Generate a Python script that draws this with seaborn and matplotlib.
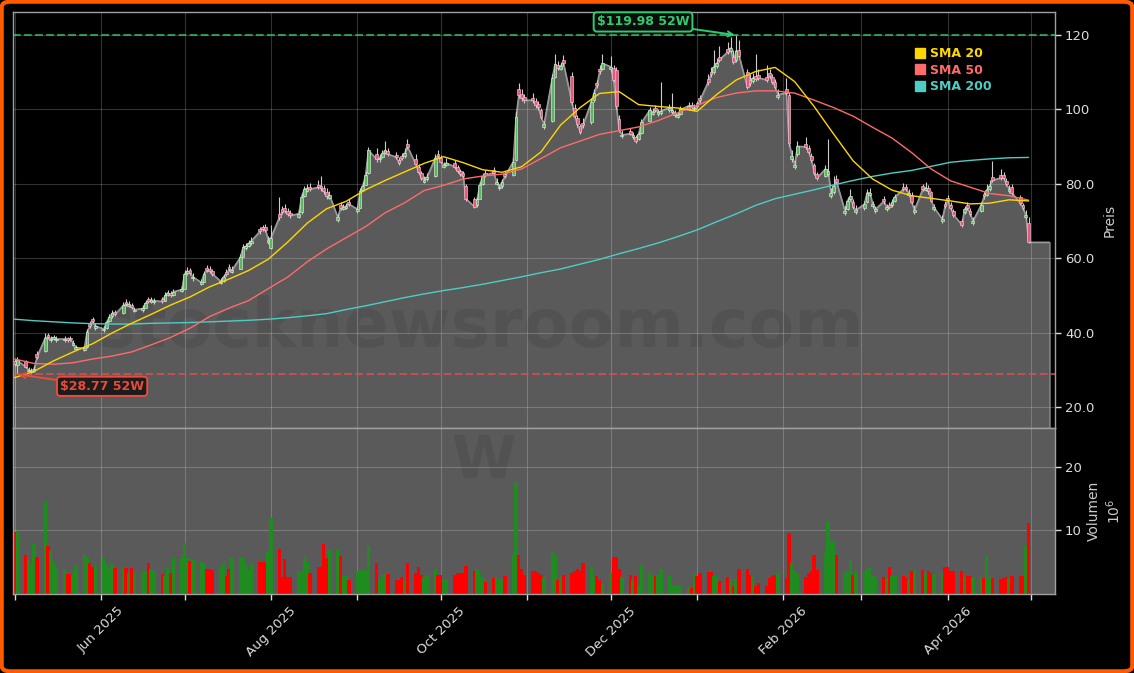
import numpy as np
import pandas as pd
import matplotlib
matplotlib.use("Agg")
import matplotlib.pyplot as plt
import matplotlib.dates as mdates
from matplotlib.ticker import FuncFormatter, FixedLocator
from matplotlib.lines import Line2D
from matplotlib.patches import FancyBboxPatch
import seaborn as sns

# ---------------- data ----------------
first_day = "2025-05-01"
last_day = "2026-04-30"

close_ = [
    31.5, 32.5,
    30.8, 30.0, 29.7, 30.2, 33.5,
    38.6, 38.8, 38.4, 38.7, 38.3,
    38.3, 38.0, 38.2, 37.2, 36.0,
    35.8, 40.2, 41.8, 43.0, 41.8,
    41.0, 42.8, 44.3, 45.2, 44.9,
    47.3, 47.8, 47.6, 46.8, 46.2,
    46.5, 48.0, 48.4, 48.8, 48.6,
    48.4, 50.0, 50.7, 50.0, 51.0,
    51.6, 55.8, 56.6, 56.0, 55.0,
    53.5, 55.8, 56.8, 56.5, 55.8,
    53.8, 55.0, 55.8, 57.0, 56.8,
    60.2, 62.9, 63.2, 64.0, 64.7,
    67.2, 67.9, 67.7, 65.0, 65.5,
    71.0, 72.5, 72.8, 72.0, 71.5,
    72.0, 76.5, 78.6, 78.8, 78.6,
    79.1, 78.8, 78.0, 76.6, 77.0,
    71.0, 73.6, 73.8, 74.0, 74.6,
    73.2, 78.0, 79.5, 82.5, 89.0,
    86.6, 87.0, 88.2, 89.0, 88.0,
    87.2, 85.5, 87.0, 88.2, 90.0,
    85.3, 83.1, 81.6, 81.1, 81.8,
    87.0, 87.5, 86.0, 85.1, 85.6,
    84.6, 83.5, 82.6, 82.0, 76.0,
    73.9, 75.8, 79.8, 82.0, 82.4,
    83.0, 80.5, 79.2, 80.6, 82.0,
    86.0, 98.0, 104.0, 103.0, 102.5,
    102.5, 101.2, 100.6, 98.0, 96.0,
    108.5, 112.2, 111.2, 111.8, 112.4,
    102.0, 98.2, 96.0, 94.0, 95.8,
    102.0, 104.5, 106.5, 110.3, 112.4,
    111.5, 108.0, 100.8, 94.5, 93.2,
    93.5, 93.0, 91.6, 93.5, 96.5,
    99.8, 99.3, 99.8, 99.2, 99.6,
    100.5, 99.8, 99.0, 98.5, 100.0,
    101.0, 100.8, 100.5, 101.0, 102.5,
    107.5, 109.5, 111.5, 112.4, 113.4,
    115.5, 116.5, 112.8, 115.8, 114.5,
    106.0, 107.0, 108.5, 108.2, 108.5,
    108.0, 109.0, 107.5, 106.0, 104.0,
    104.5, 91.0, 87.6, 85.1, 90.1,
    90.0, 88.6, 86.5, 83.0, 81.6,
    84.0, 83.5, 77.6, 79.5, 80.6,
    72.8, 75.5, 76.6, 73.8, 73.0,
    74.5, 77.6, 77.6, 74.5, 73.2,
    75.3, 73.8, 73.7, 75.0, 76.5,
    78.6, 78.6, 77.5, 75.0, 73.0,
    78.6, 79.0, 78.0, 75.5, 73.7,
    70.5, 74.0, 75.6, 73.5, 71.7,
    69.0, 73.2, 73.6, 72.0, 70.0,
    74.4, 76.6, 78.4, 79.5, 81.0,
    81.6, 81.6, 80.0, 78.5, 77.6,
    74.8, 73.5, 71.5, 64.3,
]

open_ = [
    32.4, 31.4,
    32.3, 29.6, 29.3, 29.6, 34.2,
    35.0, 39.4, 38.0, 38.3, 38.0,
    37.9, 38.5, 38.6, 36.8, 35.6,
    35.3, 36.0, 42.3, 43.6, 41.3,
    40.6, 41.2, 43.0, 44.4, 45.5,
    45.2, 48.3, 47.2, 47.5, 45.8,
    46.0, 46.7, 49.0, 48.3, 48.2,
    49.0, 48.6, 50.1, 50.6, 50.2,
    51.1, 51.8, 56.0, 56.8, 54.6,
    53.1, 53.7, 57.4, 57.0, 56.6,
    53.3, 54.0, 56.3, 57.6, 56.3,
    57.2, 60.4, 62.7, 63.3, 64.0,
    67.8, 68.5, 68.4, 64.4, 62.8,
    71.8, 73.1, 73.4, 72.7, 72.2,
    71.2, 72.4, 76.8, 78.2, 79.2,
    79.6, 79.5, 78.9, 77.8, 76.2,
    70.4, 74.2, 73.3, 73.5, 75.2,
    72.7, 73.6, 78.4, 79.8, 82.8,
    88.0, 86.6, 87.3, 88.4, 88.8,
    87.8, 86.5, 87.6, 87.4, 90.6,
    86.6, 84.5, 82.8, 80.6, 81.2,
    82.0, 88.1, 87.0, 84.6, 85.1,
    85.5, 84.4, 83.4, 82.8, 79.5,
    75.8, 74.2, 76.0, 80.0, 82.9,
    83.6, 80.0, 78.8, 79.4, 82.6,
    82.4, 86.5, 105.5, 104.2, 103.4,
    103.2, 102.2, 101.5, 99.8, 95.4,
    97.0, 108.8, 112.0, 111.0, 113.2,
    109.0, 100.5, 97.8, 95.5, 96.4,
    96.5, 102.5, 107.2, 111.0, 111.0,
    110.8, 111.2, 110.5, 97.5, 92.8,
    94.2, 92.5, 92.6, 92.0, 93.8,
    97.0, 98.8, 100.4, 98.7, 99.0,
    99.8, 99.3, 98.6, 98.0, 98.8,
    100.2, 101.3, 100.0, 101.6, 103.0,
    108.2, 110.2, 110.0, 111.7, 114.2,
    116.3, 115.8, 114.0, 113.2, 116.0,
    110.0, 107.8, 107.6, 108.9, 109.2,
    108.8, 109.8, 108.6, 107.4, 103.4,
    105.6, 104.0, 86.8, 84.5, 88.0,
    90.8, 89.6, 87.6, 85.0, 82.6,
    82.0, 82.6, 76.8, 77.8, 81.4,
    72.2, 73.2, 75.8, 75.0, 72.4,
    73.4, 75.0, 77.0, 74.0, 72.7,
    75.9, 73.3, 74.4, 74.2, 75.4,
    79.2, 79.2, 77.0, 77.0, 72.5,
    79.4, 78.4, 78.8, 77.8, 73.2,
    70.0, 74.6, 76.2, 74.4, 72.6,
    70.0, 72.4, 74.2, 72.8, 69.6,
    72.8, 77.2, 77.0, 78.6, 81.8,
    82.4, 82.3, 80.8, 78.0, 79.2,
    76.4, 74.2, 71.0, 69.5,
]

high_ = [
    33.0, 33.4,
    32.6, 30.8, 30.5, 31.0, 35.0,
    39.8, 40.0, 39.2, 39.4, 39.0,
    39.0, 38.9, 39.1, 38.0, 36.8,
    36.5, 41.0, 43.0, 44.2, 42.6,
    41.8, 43.4, 45.0, 46.0, 46.2,
    48.2, 49.0, 48.4, 48.0, 47.0,
    47.3, 48.8, 49.6, 49.5, 49.4,
    49.5, 50.8, 51.5, 51.3, 51.8,
    52.4, 56.8, 57.6, 57.5, 55.9,
    54.5, 56.5, 58.2, 57.8, 57.2,
    54.8, 55.8, 57.0, 58.4, 57.8,
    61.0, 63.8, 64.2, 65.0, 65.8,
    68.5, 69.0, 69.2, 66.0, 69.0,
    76.5, 74.0, 74.5, 73.5, 73.0,
    73.0, 77.5, 79.5, 80.0, 80.2,
    81.0, 82.0, 79.6, 78.8, 78.0,
    72.0, 75.0, 74.6, 74.8, 75.8,
    74.0, 79.0, 80.4, 83.5, 90.0,
    89.5, 88.0, 89.2, 91.5, 89.5,
    88.6, 87.2, 88.4, 89.5, 92.0,
    88.0, 85.4, 83.5, 82.0, 82.8,
    88.0, 89.2, 87.8, 86.0, 87.0,
    86.4, 85.0, 84.0, 83.5, 80.0,
    76.5, 76.5, 80.5, 82.8, 83.8,
    84.5, 81.5, 80.0, 81.4, 83.4,
    87.0, 99.5, 107.0, 105.5, 104.2,
    104.5, 103.0, 102.3, 100.5, 97.0,
    109.5, 115.0, 113.0, 112.8, 114.6,
    110.0, 101.5, 98.5, 96.2, 97.8,
    103.0, 105.5, 108.0, 112.0, 115.0,
    114.5, 112.0, 111.5, 98.5, 94.5,
    95.0, 94.0, 93.2, 94.2, 97.5,
    100.6, 100.4, 101.2, 100.2, 107.5,
    101.4, 104.5, 99.9, 99.4, 100.9,
    101.9, 102.0, 101.4, 102.4, 103.9,
    109.5, 111.4, 116.0, 113.8, 117.0,
    118.0, 119.5, 116.0, 119.98, 118.8,
    111.0, 109.5, 109.8, 115.0, 110.8,
    112.0, 111.0, 109.6, 108.2, 105.5,
    108.5, 104.6, 89.0, 86.5, 91.4,
    92.6, 90.5, 88.4, 85.6, 83.2,
    85.0, 92.0, 79.0, 82.0, 82.5,
    74.0, 76.5, 78.5, 75.8, 74.2,
    75.5, 78.6, 79.0, 75.4, 74.0,
    76.8, 74.6, 75.2, 75.9, 77.4,
    80.2, 80.0, 78.6, 77.8, 74.2,
    80.0, 80.4, 79.6, 78.2, 74.6,
    71.5, 75.4, 77.0, 75.0, 73.2,
    70.6, 74.0, 75.0, 73.6, 71.0,
    75.2, 78.0, 80.0, 81.0, 86.2,
    84.0, 83.2, 81.6, 79.6, 80.0,
    77.0, 74.8, 73.0, 71.0,
]

low_ = [
    31.0, 28.77,
    30.4, 29.3, 29.0, 29.4, 33.0,
    34.8, 38.2, 37.6, 38.0, 37.6,
    37.6, 37.6, 37.8, 36.5, 35.2,
    35.0, 35.8, 41.2, 42.5, 40.8,
    40.2, 41.0, 42.8, 44.0, 44.4,
    45.0, 47.2, 46.8, 46.3, 45.5,
    45.6, 46.5, 47.9, 48.0, 47.8,
    47.9, 48.4, 49.8, 49.5, 49.9,
    50.8, 51.6, 55.5, 55.4, 54.0,
    52.8, 53.5, 56.2, 56.0, 55.3,
    53.0, 53.7, 55.2, 56.5, 56.0,
    57.0, 60.2, 62.2, 62.9, 63.6,
    66.5, 67.2, 67.0, 63.8, 62.4,
    70.2, 71.8, 72.2, 71.4, 70.8,
    70.8, 72.0, 76.5, 77.8, 78.0,
    78.5, 78.2, 77.4, 76.0, 75.8,
    69.8, 73.0, 73.0, 73.2, 74.0,
    72.2, 73.4, 78.0, 79.6, 82.6,
    86.0, 86.0, 86.9, 88.0, 87.5,
    86.6, 85.0, 86.4, 87.0, 89.4,
    85.0, 82.6, 81.0, 80.2, 80.8,
    81.8, 86.9, 85.5, 84.2, 84.8,
    84.0, 83.0, 82.0, 81.4, 75.5,
    73.5, 73.8, 75.8, 79.6, 81.8,
    82.3, 79.6, 78.4, 79.0, 81.5,
    82.0, 86.2, 103.0, 102.2, 101.8,
    101.8, 100.5, 99.8, 97.5, 94.8,
    96.6, 108.4, 110.5, 110.6, 111.8,
    101.2, 97.6, 95.4, 93.4, 95.0,
    96.2, 102.0, 105.8, 109.5, 110.5,
    110.2, 107.5, 100.0, 94.0, 92.2,
    93.0, 92.0, 91.0, 91.8, 93.5,
    96.8, 98.4, 99.2, 98.2, 98.6,
    99.4, 98.9, 98.1, 97.6, 98.5,
    99.9, 100.2, 99.6, 100.4, 101.8,
    106.5, 108.8, 109.6, 111.2, 112.8,
    114.8, 115.2, 112.2, 112.8, 113.8,
    105.4, 106.4, 107.2, 107.6, 107.9,
    107.4, 108.4, 106.8, 105.4, 102.8,
    103.8, 90.2, 86.0, 84.0, 87.6,
    89.4, 88.0, 85.8, 82.4, 81.0,
    81.8, 82.2, 76.2, 77.4, 80.0,
    71.6, 73.0, 75.4, 73.2, 71.8,
    73.0, 74.8, 76.6, 73.6, 72.2,
    74.7, 72.8, 73.2, 73.8, 75.0,
    78.0, 78.0, 76.6, 74.5, 72.0,
    78.0, 78.0, 77.4, 75.0, 72.8,
    69.6, 73.4, 75.0, 73.0, 71.2,
    68.4, 72.0, 73.0, 71.4, 69.0,
    72.4, 76.0, 76.8, 78.2, 80.4,
    81.0, 81.0, 79.4, 77.6, 77.0,
    74.2, 73.0, 70.6, 64.0,
]

volume_m = [
    9.8, 9.8,
    6.2, 5.3, 4.4, 7.9, 5.8,
    14.4, 7.5, 6.8, 5.1, 4.2,
    3.9, 3.2, 3.2, 3.3, 4.5,
    6.2, 5.6, 4.9, 4.2, 4.4,
    5.6, 4.7, 3.9, 4.7, 4.1,
    4.2, 4.1, 3.3, 4.1, 3.5,
    3.5, 3.6, 4.8, 3.9, 3.6,
    3.2, 2.8, 4.2, 3.3, 5.6,
    5.6, 8.0, 5.6, 5.2, 5.3,
    5.1, 4.8, 3.9, 3.9, 3.8,
    4.2, 4.8, 2.8, 3.9, 5.6,
    5.6, 5.6, 4.5, 3.8, 4.8,
    5.1, 5.1, 5.1, 6.6, 12.0,
    7.1, 2.7, 5.5, 2.7, 2.7,
    3.6, 3.6, 5.8, 5.0, 3.3,
    4.2, 4.2, 7.9, 5.6, 6.9,
    6.9, 6.0, 2.8, 2.8, 2.2,
    3.6, 3.6, 3.8, 3.8, 7.5,
    4.9, 2.2, 3.0, 3.2, 3.2,
    2.2, 2.2, 2.7, 2.1, 4.8,
    3.3, 4.2, 3.0, 2.7, 3.0,
    3.9, 3.0, 3.0, 2.4, 2.4,
    3.0, 3.3, 3.3, 3.3, 4.4,
    3.6, 3.9, 3.3, 2.7, 1.9,
    2.5, 2.7, 2.4, 2.4, 2.9,
    6.1, 17.5, 6.1, 4.0, 3.0,
    3.6, 3.6, 3.3, 3.0, 2.6,
    6.7, 6.0, 2.2, 2.6, 3.0,
    3.3, 3.6, 3.9, 3.6, 4.8,
    4.2, 2.6, 2.9, 2.2, 1.6,
    3.3, 5.8, 5.8, 3.9, 2.6,
    3.0, 2.2, 2.9, 1.3, 4.5,
    3.3, 2.9, 2.9, 3.0, 3.9,
    2.9, 1.3, 1.3, 1.2, 1.3,
    1.3, 1.0, 3.3, 2.9, 3.3,
    3.4, 3.4, 2.9, 2.9, 2.0,
    2.6, 2.3, 1.3, 2.3, 3.9,
    3.9, 3.0, 3.0, 1.3, 1.8,
    1.3, 2.5, 2.9, 3.0, 3.3,
    2.5, 9.6, 4.8, 3.6, 3.2,
    2.7, 3.3, 3.6, 6.1, 3.7,
    6.5, 11.3, 8.3, 8.3, 6.2,
    3.3, 3.6, 5.2, 3.0, 3.6,
    3.4, 3.9, 4.1, 3.0, 2.7,
    2.6, 2.5, 4.3, 2.9, 3.0,
    2.9, 2.5, 2.3, 3.6, 3.7,
    3.7, 3.3, 3.6, 3.3, 3.2,
    3.2, 4.2, 4.2, 3.6, 3.6,
    3.6, 2.7, 2.8, 2.8, 2.6,
    2.6, 2.5, 6.1, 2.6, 2.5,
    2.4, 2.5, 2.6, 2.5, 2.9,
    2.9, 2.9, 7.6, 11.2,
]

# moving averages, one value every 5 trading days
sma_step = 5
sma20 = [27.9, 29.6, 32.4, 34.8, 37.0, 39.9, 42.5, 44.9, 47.4, 49.6, 52.3, 54.4,
         56.7, 59.7, 64.3, 69.4, 73.3, 75.3, 78.4, 80.9, 83.2, 85.5, 87.3, 85.7,
         83.8, 83.1, 84.6, 88.6, 95.8, 100.5, 104.3, 104.8, 101.3, 100.8, 100.4,
         99.5, 104.0, 107.9, 110.2, 111.3, 107.5, 100.8, 93.4, 86.2, 81.3, 78.3,
         76.8, 76.1, 75.4, 74.6, 74.8, 75.7, 75.4]
sma50 = [32.9, 31.7, 31.5, 31.9, 32.9, 33.7, 34.8, 36.7, 38.7, 41.2, 44.3, 46.6,
         48.6, 51.8, 54.9, 59.0, 62.5, 65.5, 68.5, 72.2, 74.9, 78.2, 79.6, 81.3,
         82.1, 82.6, 84.0, 86.8, 89.7, 91.5, 93.3, 94.3, 95.3, 97.0, 99.1, 101.1,
         103.2, 104.4, 105.0, 105.0, 104.4, 102.5, 100.5, 98.2, 95.2, 92.3, 88.4,
         84.0, 80.8, 79.1, 77.4, 76.8, 75.6]
sma200 = [43.6, 43.2, 42.9, 42.6, 42.4, 42.3, 42.3, 42.5, 42.6, 42.7, 42.9, 43.1,
          43.3, 43.6, 44.0, 44.5, 45.1, 46.2, 47.2, 48.3, 49.4, 50.4, 51.3, 52.1,
          53.0, 54.0, 55.0, 56.1, 57.1, 58.4, 59.7, 61.2, 62.6, 64.1, 65.8, 67.6,
          69.8, 71.9, 74.2, 76.0, 77.2, 78.4, 79.7, 80.9, 82.0, 82.9, 83.6, 84.7,
          85.8, 86.3, 86.7, 87.0, 87.1]

high_52w = 119.98
low_52w = 28.77

price_ticks = [20, 40, 60, 80, 100, 120]
volume_ticks = [10, 20]
sma_labels = ["SMA 20", "SMA 50", "SMA 200"]
sma_colors = ["#FFD700", "#FF6B6B", "#4ECDC4"]

# ---------------- build ----------------
dates = pd.bdate_range(first_day, last_day)
O = np.array(open_, float)
H = np.array(high_, float)
L = np.array(low_, float)
C = np.array(close_, float)
V = np.array(volume_m, float)
sma_dates = dates[::sma_step]

sns.set_theme(style="dark")
plt.rcParams.update({
    "font.family": ["DejaVu Sans"],
    "figure.facecolor": "black",
    "axes.facecolor": "black",
    "axes.edgecolor": "#a0a0a0",
    "text.color": "#dddddd",
    "xtick.color": "#dddddd",
    "ytick.color": "#dddddd",
    "axes.labelcolor": "#cccccc",
})

W, Hh = 1134, 673
fig = plt.figure(figsize=(W / 100, Hh / 100), dpi=100, facecolor="black")
ax = fig.add_axes([12.5 / W, 1 - 428 / Hh, 1042 / W, 416 / Hh])
axv = fig.add_axes([12.5 / W, 1 - 594 / Hh, 1042 / W, 166 / Hh], sharex=ax)

gray_fill = "#5a5a5a"
ax.set_facecolor("black")
axv.set_facecolor(gray_fill)

# area under close, flat extension to the right
x_fill = list(dates) + [dates[-1] + pd.Timedelta(days=7.5)]
y_fill = list(C) + [C[-1]]
ax.fill_between(x_fill, y_fill, 0, facecolor=gray_fill, edgecolor="#8c8c8c",
                linewidth=1.0, zorder=0.5)
sns.lineplot(x=x_fill, y=y_fill, ax=ax, color="#9a9a9a", linewidth=1.0,
             zorder=0.6, legend=False)

# candles
up = C >= O
body_col = np.where(up, "#5cb85c", "#e8577d")
edge_col = np.where(up, "#d8eed8", "#f5c8d3")
ax.vlines(dates, L, H, color="#cccccc", linewidth=0.8, zorder=2)
body_low = np.minimum(O, C)
body_h = np.maximum(np.abs(C - O), 0.25)
ax.bar(dates, body_h, bottom=body_low, width=1.0, color=body_col,
       edgecolor=edge_col, linewidth=0.45, zorder=2.2)

# moving averages
for vals, col in zip([sma200, sma50, sma20], [sma_colors[2], sma_colors[1], sma_colors[0]]):
    sns.lineplot(x=sma_dates, y=vals, ax=ax, color=col, linewidth=1.0,
                 zorder=3, legend=False)

# 52-week lines
ax.axhline(high_52w, color="#3fbf6a", linestyle="--", linewidth=1.5, alpha=0.75, zorder=2.5)
ax.axhline(low_52w, color="#e05050", linestyle="--", linewidth=1.5, alpha=0.75, zorder=2.5)

i_hi = int(np.argmax(H))
i_lo = int(np.argmin(L))
ax.annotate(r"\$%.2f 52W" % high_52w, xy=(dates[i_hi], high_52w),
            xytext=(-67, 9.5), textcoords="offset points", ha="center", va="center",
            fontsize=9, fontweight="bold", color="#2ecc71",
            bbox=dict(boxstyle="round,pad=0.25", fc="#0c0c0c", ec="#2ecc71", lw=1.4),
            arrowprops=dict(arrowstyle="->", color="#2ecc71", lw=1.4, shrinkA=0, shrinkB=1),
            zorder=6)
ax.annotate(r"\$%.2f 52W" % low_52w, xy=(dates[i_lo], low_52w),
            xytext=(61, -8.6), textcoords="offset points", ha="center", va="center",
            fontsize=9, fontweight="bold", color="#e74c3c",
            bbox=dict(boxstyle="round,pad=0.25", fc="#1c1c1c", ec="#e74c3c", lw=1.4),
            arrowprops=dict(arrowstyle="->", color="#e74c3c", lw=1.4, shrinkA=0, shrinkB=1),
            zorder=6)

# watermark
ax.text((480 - 12.5) / 1042, (428 - 328) / 416, "stocknewsroom.com", transform=ax.transAxes,
        fontsize=48, fontweight="bold", color="black", alpha=0.08,
        ha="center", va="center", zorder=1.2)
axv.text((483 - 12.5) / 1042, (594 - 462) / 166, "W", transform=axv.transAxes,
         fontsize=42, fontweight="bold", color="black", alpha=0.08,
         ha="center", va="center", zorder=1.2)

# volume bars
vol_col = np.where(up, "#1e8c1e", "#ff0000")
axv.bar(dates, V, width=1.2, color=vol_col, linewidth=0, zorder=2)

# axes limits
x_left = pd.Timestamp(first_day) - pd.Timedelta(days=0.75)
x_right = pd.Timestamp(last_day) + pd.Timedelta(days=9.3)
ax.set_xlim(x_left, x_right)
ax.set_ylim(14.35, 126.2)
axv.set_ylim(0, 26.1)

# grids
for a in (ax, axv):
    a.set_axisbelow("line")
    a.grid(True, color="white", alpha=0.2, linewidth=0.8)
    for s in a.spines.values():
        s.set_color("#a0a0a0")
        s.set_linewidth(1.0)

# ticks
ax.yaxis.tick_right()
ax.yaxis.set_major_locator(FixedLocator(price_ticks))
ax.yaxis.set_major_formatter(FuncFormatter(lambda v, p: f"{v:.0f}" if v >= 100 else f"{v:.1f}"))
ax.tick_params(axis="y", right=True, left=False, length=4, width=1, colors="#dddddd",
               labelsize=9.5, direction="out")
ax.tick_params(axis="x", bottom=False, labelbottom=False, length=0)
ax.yaxis.set_label_position("right")
ax.set_ylabel("Preis", fontsize=10, color="#cccccc", labelpad=6)

axv.yaxis.tick_right()
axv.yaxis.set_major_locator(FixedLocator(volume_ticks))
axv.yaxis.set_major_formatter(FuncFormatter(lambda v, p: f"{v:.0f}"))
axv.tick_params(axis="y", right=True, left=False, length=4, width=1, colors="#dddddd",
                labelsize=9.5, direction="out")
axv.yaxis.set_label_position("right")
axv.set_ylabel("Volumen\n$10^{6}$", fontsize=10, color="#cccccc", labelpad=4)

axv.xaxis.set_major_locator(mdates.MonthLocator())


def month_fmt(x, pos):
    d = mdates.num2date(x)
    return d.strftime("%b %Y") if d.month % 2 == 0 else ""


axv.xaxis.set_major_formatter(FuncFormatter(month_fmt))
axv.tick_params(axis="x", bottom=True, length=4, width=1, colors="#dddddd",
                labelsize=9.5, direction="out")
for lab in axv.get_xticklabels():
    lab.set_rotation(45)
    lab.set_ha("center")

# legend
handles = [Line2D([], [], marker="s", linestyle="", color=c, markersize=7) for c in sma_colors]
leg = ax.legend(handles, sma_labels, loc="upper left",
                bbox_to_anchor=((914 - 12.5) / 1042, 1 - (47 - 12) / 416),
                frameon=False, handletextpad=0.3, labelspacing=0.28, handlelength=1.0,
                borderaxespad=0, borderpad=0, prop={"weight": "bold", "size": 9})
for t, c in zip(leg.get_texts(), sma_colors):
    t.set_color(c)

# orange rounded frame
fig.patches.append(FancyBboxPatch((0.0015, 0.0025), 0.997, 0.995,
                                  boxstyle="round,pad=0,rounding_size=0.008",
                                  transform=fig.transFigure, facecolor="none",
                                  edgecolor="#ff5a00", linewidth=3, zorder=10))

fig.savefig("out.png", dpi=100, facecolor="black")
